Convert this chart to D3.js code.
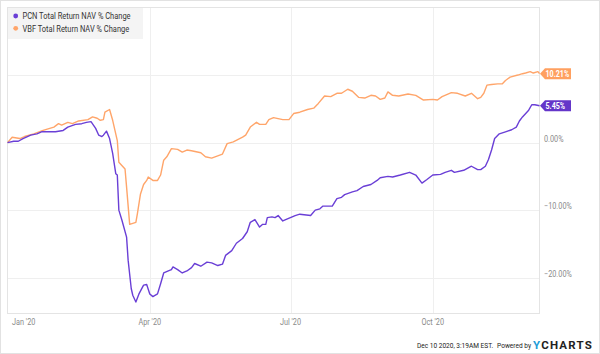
<!DOCTYPE html>
<html><head><meta charset="utf-8">
<script src="https://cdn.jsdelivr.net/npm/d3@7"></script>
<style>
html,body{margin:0;padding:0;background:#fff;}
svg{display:block;font-family:Roboto,"Noto Sans",sans-serif;}
</style></head>
<body>
<svg id="chart" width="600" height="354"></svg>
<script>
const seriesNames = ["PCN Total Return NAV % Change", "VBF Total Return NAV % Change"];
const seriesColors = ["#6a3fd6", "#ffa56a"];
const flagColors = ["#6436c9", "#ffa060"];

const vbfDates = ["2019-12-31","2020-01-03","2020-01-08","2020-01-11","2020-01-17","2020-01-23","2020-01-30","2020-02-02","2020-02-04","2020-02-08","2020-02-11","2020-02-15","2020-02-21","2020-02-24","2020-02-27","2020-02-29","2020-03-02","2020-03-03","2020-03-06","2020-03-08","2020-03-11","2020-03-12","2020-03-16","2020-03-17","2020-03-19","2020-03-23","2020-03-24","2020-03-26","2020-03-28","2020-03-30","2020-03-31","2020-04-03","2020-04-06","2020-04-08","2020-04-10","2020-04-12","2020-04-15","2020-04-19","2020-04-22","2020-04-25","2020-04-28","2020-05-04","2020-05-07","2020-05-11","2020-05-18","2020-05-21","2020-05-25","2020-05-31","2020-06-02","2020-06-05","2020-06-09","2020-06-11","2020-06-15","2020-06-17","2020-06-20","2020-06-26","2020-06-30","2020-07-03","2020-07-07","2020-07-12","2020-07-16","2020-07-19","2020-07-23","2020-07-27","2020-07-31","2020-08-03","2020-08-07","2020-08-10","2020-08-14","2020-08-18","2020-08-22","2020-08-25","2020-08-28","2020-08-31","2020-09-02","2020-09-05","2020-09-09","2020-09-15","2020-09-20","2020-09-25","2020-10-01","2020-10-04","2020-10-07","2020-10-13","2020-10-17","2020-10-22","2020-10-26","2020-10-30","2020-11-01","2020-11-03","2020-11-05","2020-11-08","2020-11-12","2020-11-15","2020-11-17","2020-11-20","2020-11-25","2020-11-28","2020-11-30","2020-12-03","2020-12-05","2020-12-08","2020-12-09"];
const vbfValues = [0,0.8,0.6,0.9,1.3,1.8,2.3,2.8,2.6,3.0,2.8,3.2,3.4,3.8,3.6,3.3,3.4,4.5,4.9,3.3,0.3,-2.9,-3.9,-6.6,-12.1,-11.8,-10.5,-7.6,-6.2,-5.6,-5.1,-5.6,-5.6,-4.8,-2.6,-2.1,-0.9,-1.0,-1.4,-1.1,-1.2,-1.5,-2.1,-2.3,-1.7,-0.15,0.1,0.8,1.1,2.3,3.0,2.7,2.7,3.4,3.7,3.4,3.4,4.3,4.5,4.9,5.1,5.8,6.9,6.8,7.3,7.3,7.9,7.6,6.7,6.6,7.0,6.9,6.4,6.6,7.5,7.0,6.9,7.2,7.0,6.3,6.4,6.3,6.8,7.4,7.3,6.9,7.3,6.5,6.7,7.3,8.5,8.6,8.7,8.7,9.2,9.7,10.0,10.2,10.3,10.5,10.3,10.5,10.21];

const pcnDates = ["2019-12-31","2020-01-04","2020-01-07","2020-01-10","2020-01-15","2020-01-19","2020-01-22","2020-01-26","2020-01-31","2020-02-05","2020-02-08","2020-02-13","2020-02-17","2020-02-20","2020-02-23","2020-02-26","2020-02-28","2020-03-01","2020-03-02","2020-03-04","2020-03-06","2020-03-08","2020-03-10","2020-03-11","2020-03-12","2020-03-14","2020-03-17","2020-03-18","2020-03-20","2020-03-21","2020-03-23","2020-03-25","2020-03-28","2020-03-30","2020-04-01","2020-04-03","2020-04-06","2020-04-08","2020-04-10","2020-04-13","2020-04-15","2020-04-16","2020-04-19","2020-04-22","2020-04-25","2020-04-28","2020-04-30","2020-05-04","2020-05-08","2020-05-11","2020-05-15","2020-05-18","2020-05-20","2020-05-24","2020-05-27","2020-05-31","2020-06-03","2020-06-05","2020-06-08","2020-06-11","2020-06-13","2020-06-15","2020-06-16","2020-06-19","2020-06-21","2020-06-23","2020-06-26","2020-06-29","2020-07-04","2020-07-07","2020-07-14","2020-07-17","2020-07-20","2020-07-22","2020-07-28","2020-07-31","2020-08-03","2020-08-05","2020-08-10","2020-08-13","2020-08-17","2020-08-22","2020-08-26","2020-08-28","2020-09-02","2020-09-05","2020-09-10","2020-09-16","2020-09-20","2020-09-24","2020-09-27","2020-10-01","2020-10-06","2020-10-09","2020-10-13","2020-10-15","2020-10-21","2020-10-26","2020-10-30","2020-11-01","2020-11-04","2020-11-06","2020-11-08","2020-11-10","2020-11-13","2020-11-17","2020-11-21","2020-11-24","2020-11-26","2020-11-28","2020-12-02","2020-12-04","2020-12-06","2020-12-09"];
const pcnValues = [0,0.2,0.2,0.6,1.1,1.3,1.6,1.6,1.6,1.8,2.3,2.7,2.8,3.0,3.1,2.1,1.1,0.9,1.1,1.7,0.6,-1.6,-4.6,-4.8,-10.0,-11.5,-14.0,-17.4,-21.6,-22.6,-23.6,-22.4,-21.1,-21.0,-22.4,-22.8,-22.4,-20.9,-19.3,-19.0,-18.8,-18.4,-18.8,-19.3,-19.0,-18.5,-17.9,-18.3,-17.7,-17.8,-18.2,-18.0,-16.7,-16.0,-14.9,-14.2,-13.2,-11.8,-11.4,-12.5,-12.1,-12.1,-11.1,-11.0,-11.1,-10.8,-11.6,-11.3,-10.8,-10.6,-10.8,-10.0,-9.8,-9.4,-9.4,-8.3,-8.1,-7.7,-7.3,-7.1,-6.5,-6.2,-5.6,-5.2,-5.0,-5.1,-4.8,-4.4,-4.8,-6.0,-5.5,-4.8,-4.7,-4.4,-4.1,-4.4,-4.1,-3.5,-4.0,-4.0,-3.5,-2.5,-1.1,0.6,1.3,1.6,1.9,2.3,3.2,3.8,4.8,5.6,5.6,5.45];

const gridTicks = [10, 0, -10, -20];
const yLabelTicks = [0, -10, -20];
const xTickDates = ["2020-01-01","2020-04-01","2020-07-01","2020-10-01"];
const xTickLabels = ["Jan '20","Apr '20","Jul '20","Oct '20"];
const footerText = "Dec 10 2020, 3:19AM EST.";

const parse = d3.timeParse("%Y-%m-%d");
const series = [
  {name: seriesNames[0], color: seriesColors[0], flag: flagColors[0],
   data: pcnDates.map((d,i)=>({date: parse(d), value: pcnValues[i]}))},
  {name: seriesNames[1], color: seriesColors[1], flag: flagColors[1],
   data: vbfDates.map((d,i)=>({date: parse(d), value: vbfValues[i]}))}
];

const svg = d3.select("#chart");
const W = 600, H = 354;
const plot = {left: 7.5, top: 7.5, right: 539.5, bottom: 313.5};
const SX = 0.86; // horizontal condensing of text

const x = d3.scaleTime()
  .domain([parse("2019-12-31"), parse("2020-12-09")])
  .range([plot.left, plot.right]);
const y = d3.scaleLinear().domain([-25.3, 20]).range([plot.bottom, plot.top]);

function ctext(parent, tx, ty, str, size, fill, opts={}) {
  const t = parent.append("text")
    .attr("transform", `translate(${tx},${ty}) scale(${opts.sx||SX},1)`)
    .attr("font-size", size).attr("fill", fill)
    .attr("text-anchor", opts.anchor || "start")
    .text(str);
  if (opts.weight) t.attr("font-weight", opts.weight);
  return t;
}

// outer frame
svg.append("rect").attr("x",0.5).attr("y",0.5).attr("width",W-1).attr("height",H-1)
  .attr("fill","#fff").attr("stroke","#e2e2e2");

// grid
const g = svg.append("g");
g.selectAll(".hg").data(gridTicks).join("line")
  .attr("x1",plot.left).attr("x2",plot.right)
  .attr("y1",d=>Math.round(y(d))+0.5).attr("y2",d=>Math.round(y(d))+0.5)
  .attr("stroke","#efefef").attr("stroke-width",1);
g.selectAll(".vg").data(xTickDates.slice(1)).join("line")
  .attr("x1",d=>Math.round(x(parse(d)))+0.5).attr("x2",d=>Math.round(x(parse(d)))+0.5)
  .attr("y1",plot.top).attr("y2",plot.bottom)
  .attr("stroke","#efefef").attr("stroke-width",1);

// plot border
svg.append("rect").attr("x",plot.left).attr("y",plot.top)
  .attr("width",plot.right-plot.left).attr("height",plot.bottom-plot.top)
  .attr("fill","none").attr("stroke","#e4e4e4");

// x labels
xTickDates.forEach((d,i)=>{
  const px = x(parse(d));
  if (i===0) ctext(svg, px+3, 325, xTickLabels[i], 8.5, "#8a8a8a");
  else ctext(svg, px, 325, xTickLabels[i], 8.5, "#8a8a8a", {anchor:"middle"});
});

// y labels
yLabelTicks.forEach(d=>{
  ctext(svg, 544, y(d)-1, d3.format(".2f")(d)+"%", 8.5, "#8a8a8a");
});

// lines
const line = d3.line().x(d=>x(d.date)).y(d=>y(d.value));
series.slice().reverse().forEach(s=>{
  svg.append("path").datum(s.data).attr("d",line)
    .attr("fill","none").attr("stroke",s.color).attr("stroke-width",1.4)
    .attr("stroke-linejoin","round");
});

// end flags
series.forEach(s=>{
  const last = s.data[s.data.length-1];
  const cy = y(last.value);
  const x0 = plot.right + 0.5, h = 11, bodyL = x0+5, bodyR = 571;
  svg.append("path")
    .attr("d",`M${x0},${cy} L${bodyL},${cy-h/2} L${bodyR},${cy-h/2} L${bodyR},${cy+h/2} L${bodyL},${cy+h/2} Z`)
    .attr("fill",s.flag);
  ctext(svg, 545.5, cy+3.2, d3.format(".2f")(last.value)+"%", 8.5, "#fff", {weight:"bold", sx:0.84});
});

// legend
const lg = svg.append("g");
lg.append("rect").attr("x",plot.left+0.5).attr("y",plot.top+0.5).attr("width",135).attr("height",31)
  .attr("fill","#f4f4f4");
series.forEach((s,i)=>{
  lg.append("circle").attr("cx",15.7).attr("cy",16+i*12.3).attr("r",2.4).attr("fill",s.color);
  ctext(lg, 22.5, 19.2+i*12.3, s.name, 8.5, "#333", {sx:0.88});
});

// footer, laid out right-to-left
const yc = svg.append("text").attr("x",593).attr("y",349).attr("font-size",11.5)
  .attr("text-anchor","end")
  .attr("font-weight","bold").attr("letter-spacing",1.2).attr("fill","#222");
yc.append("tspan").attr("fill","#1e9bd7").text("Y");
yc.append("tspan").text("CHARTS");
const ycW = yc.node().getComputedTextLength();
const pb = ctext(svg, 593 - ycW - 2, 347.5, "Powered by", 8, "#222", {anchor:"end", sx:0.82});
const pbW = pb.node().getComputedTextLength()*0.82;
ctext(svg, 593 - ycW - 2 - pbW - 4, 347.5, footerText, 8, "#222", {anchor:"end", sx:0.82});
</script>
</body></html>
